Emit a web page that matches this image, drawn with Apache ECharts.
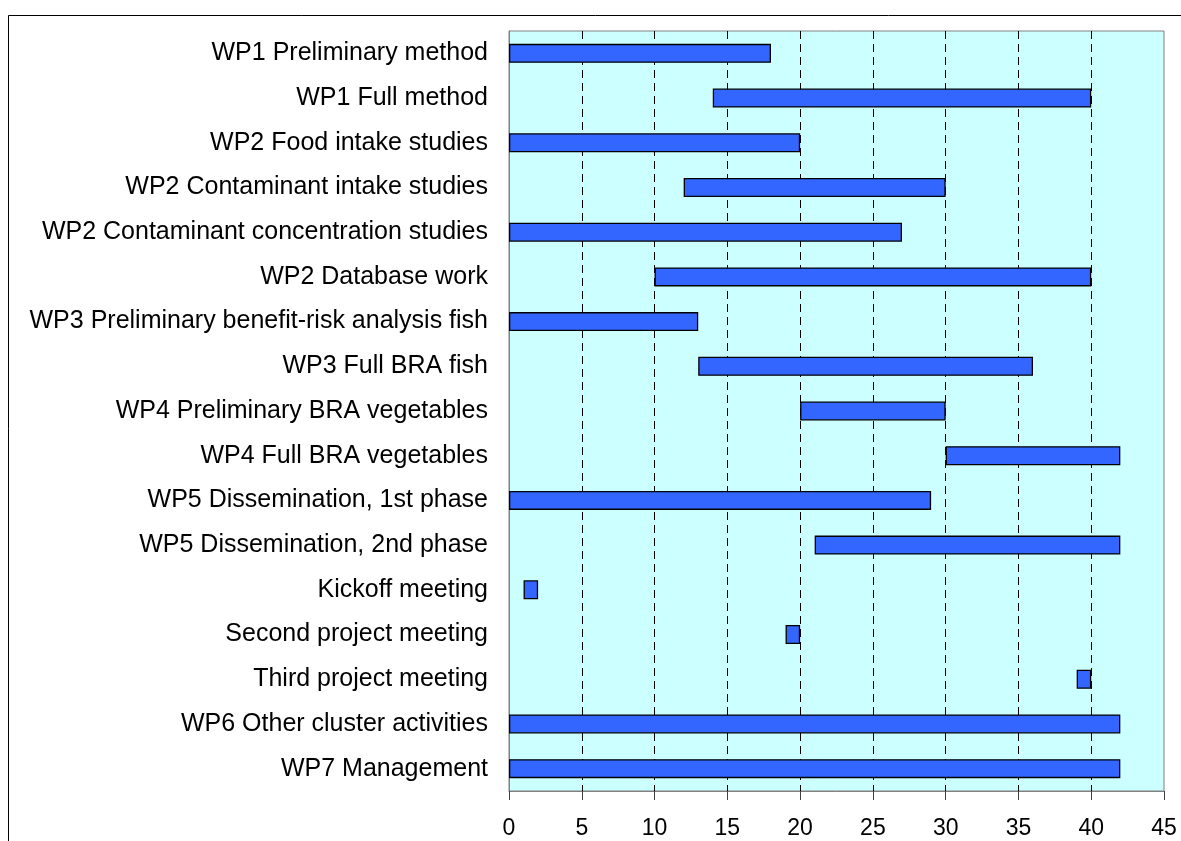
<!DOCTYPE html>
<html>
<head>
<meta charset="utf-8">
<script src="https://cdn.jsdelivr.net/npm/echarts@6/dist/echarts.min.js"></script>
<style>
html,body{margin:0;padding:0;background:#fff;}
#chart{width:1181px;height:841px;}
</style>
</head>
<body>
<div id="chart"></div>
<script>
var categories = [
  "WP1 Preliminary method",
  "WP1 Full method",
  "WP2 Food intake studies",
  "WP2 Contaminant intake studies",
  "WP2 Contaminant concentration studies",
  "WP2 Database work",
  "WP3 Preliminary benefit-risk analysis fish",
  "WP3 Full BRA fish",
  "WP4 Preliminary BRA vegetables",
  "WP4 Full BRA vegetables",
  "WP5 Dissemination, 1st phase",
  "WP5 Dissemination, 2nd phase",
  "Kickoff meeting",
  "Second project meeting",
  "Third project meeting",
  "WP6 Other cluster activities",
  "WP7 Management"
];
var starts = [0, 14, 0, 12, 0, 10, 0, 13, 20, 30, 0, 21, 1, 19, 39, 0, 0];
var ends   = [18, 40, 20, 30, 27, 40, 13, 36, 30, 42, 29, 42, 2, 20, 40, 42, 42];
var xTicks = { min: 0, max: 45, interval: 5 };

var durations = ends.map(function (e, i) { return e - starts[i]; });

var chart = echarts.init(document.getElementById('chart'), null, { renderer: 'canvas' });
chart.setOption({
  animation: false,
  backgroundColor: '#ffffff',
  graphic: [{
    type: 'rect',
    shape: { x: 8.5, y: 15.5, width: 1300, height: 1000 },
    style: { fill: 'none', stroke: '#000000', lineWidth: 1 },
    silent: true
  }],
  grid: {
    left: 509, right: 17, top: 31, bottom: 50,
    show: true,
    backgroundColor: '#CCFFFF',
    borderColor: '#808080',
    borderWidth: 1
  },
  xAxis: {
    type: 'value',
    min: xTicks.min, max: xTicks.max, interval: xTicks.interval,
    axisLine: { show: true, lineStyle: { color: '#808080', width: 1 } },
    axisTick: { show: true, length: 9, lineStyle: { color: '#404040' } },
    axisLabel: { color: '#000', fontFamily: 'Liberation Sans, Arial', fontSize: 23, margin: 26 },
    splitLine: { show: true, showMinLine: false, showMaxLine: false,
      lineStyle: { color: '#000000', type: [8, 5], width: 1 } }
  },
  yAxis: {
    type: 'category',
    data: categories,
    inverse: true,
    axisLine: { show: true, lineStyle: { color: '#808080', width: 1 } },
    axisTick: { show: false },
    axisLabel: { color: '#000', fontFamily: 'Liberation Sans, Arial', fontSize: 25, margin: 21 },
    splitLine: { show: false }
  },
  series: [
    {
      type: 'bar', stack: 'g', data: starts, barWidth: 19,
      itemStyle: { color: 'transparent', borderWidth: 0 },
      silent: true
    },
    {
      type: 'bar', stack: 'g', data: durations, barWidth: 19,
      itemStyle: { color: '#3366FF', borderColor: '#000000', borderWidth: 1.3 }
    }
  ]
});
</script>
</body>
</html>
